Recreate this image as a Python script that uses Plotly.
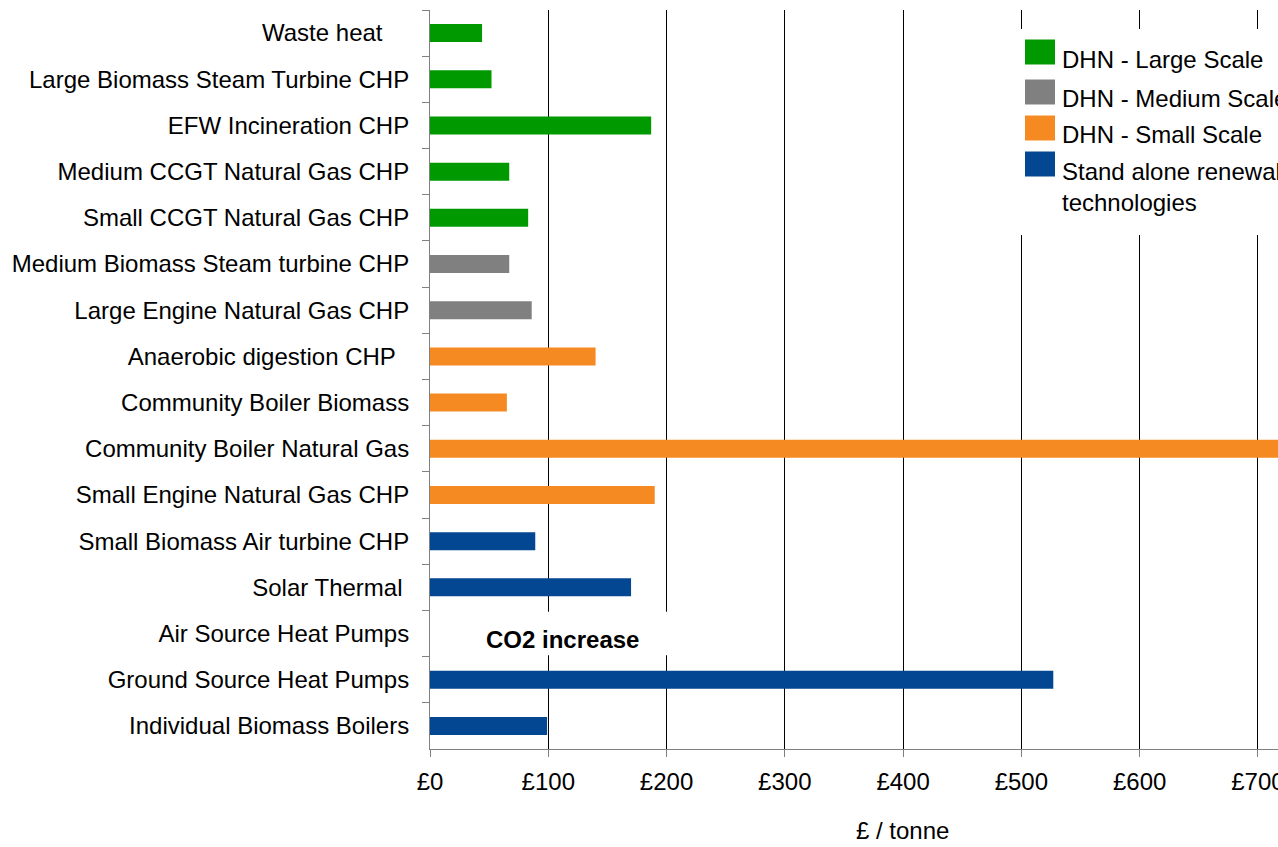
import plotly.graph_objects as go

NBSP = "\u00a0"
categories = [
    "Waste heat" + NBSP * 4,
    "Large Biomass Steam Turbine CHP",
    "EFW Incineration CHP",
    "Medium CCGT Natural Gas CHP",
    "Small CCGT Natural Gas CHP",
    "Medium Biomass Steam turbine CHP",
    "Large Engine Natural Gas CHP",
    "Anaerobic digestion CHP" + NBSP * 2,
    "Community Boiler Biomass",
    "Community Boiler Natural Gas",
    "Small Engine Natural Gas CHP",
    "Small Biomass Air turbine CHP",
    "Solar Thermal" + NBSP,
    "Air Source Heat Pumps",
    "Ground Source Heat Pumps",
    "Individual Biomass Boilers",
]

large_cats = categories[0:5]
large_vals = [44, 52, 187, 67, 83]
medium_cats = categories[5:7]
medium_vals = [67, 86]
small_cats = categories[7:11]
small_vals = [140, 65, 850, 190]
stand_cats = categories[11:16]
stand_vals = [89, 170, None, 527, 99]

series_names = ["DHN - Large Scale", "DHN - Medium Scale", "DHN - Small Scale",
                "Stand alone renewable<br>technologies"]
colors = ["#009900", "#808080", "#F68A22", "#034691"]

x_ticks = [0, 100, 200, 300, 400, 500, 600, 700]
x_ticktext = ["£0", "£100", "£200", "£300", "£400", "£500", "£600", "£700"]
x_title = "£ / tonne"
note_text = "CO2 increase"

FONT = "Liberation Sans, Arial, sans-serif"
FS = 24

fig = go.Figure()
for cats, vals, name, col in zip(
    [large_cats, medium_cats, small_cats, stand_cats],
    [large_vals, medium_vals, small_vals, stand_vals],
    series_names, colors):
    fig.add_trace(go.Bar(y=cats, x=vals, orientation="h", name=name,
                         marker=dict(color=col, line=dict(width=0)),
                         width=0.39, showlegend=False))

W, H = 1278, 847
L, R, T, B = 430, 1278, 10, 749  # plot area in page pixels
def px(x):
    return (x - L) / (R - L)
def py(y):
    return (B - y) / (B - T)

shapes = []
annotations = []

# white box behind "CO2 increase"
idx = categories.index("Air Source Heat Pumps")
shapes.append(dict(type="rect", xref="x", yref="y", x0=3, x1=205,
                   y0=idx - 0.47, y1=idx + 0.47, fillcolor="white",
                   line=dict(width=0), layer="above"))
annotations.append(dict(x=112, y=categories[idx], xref="x", yref="y",
                        text="<b>" + note_text + "</b>", showarrow=False,
                        yshift=-6, font=dict(family=FONT, size=24, color="black")))

# legend (manual)
shapes.append(dict(type="rect", xref="paper", yref="paper", x0=px(1013), x1=px(1300),
                   y0=py(235), y1=py(29), fillcolor="white", line=dict(width=0),
                   layer="above"))
sw_centers = [52, 92, 128, 164]
txt_centers = [60, 98, 134, 170]
for i, (name, col) in enumerate(zip(series_names, colors)):
    c = sw_centers[i]
    shapes.append(dict(type="rect", xref="paper", yref="paper", x0=px(1025), x1=px(1055),
                       y0=py(c + 12.5), y1=py(c - 12.5), fillcolor=col,
                       line=dict(width=0), layer="above"))
    if i < 3:
        annotations.append(dict(x=px(1060), y=py(txt_centers[i]), xref="paper", yref="paper",
                                text=name, showarrow=False, xanchor="left", yanchor="middle",
                                align="left", font=dict(family=FONT, size=FS, color="black")))
    else:
        annotations.append(dict(x=px(1060), y=py(txt_centers[i] - 14), xref="paper", yref="paper",
                                text=name, showarrow=False, xanchor="left", yanchor="top",
                                align="left", font=dict(family=FONT, size=FS, color="black")))

# x-axis title
annotations.append(dict(x=px(902), y=py(830), xref="paper", yref="paper", text=x_title,
                        showarrow=False, xanchor="center", yanchor="middle",
                        font=dict(family=FONT, size=FS, color="black")))

fig.update_layout(
    width=W, height=H,
    margin=dict(l=L, r=W - R, t=T, b=H - B, pad=0, autoexpand=False),
    paper_bgcolor="white", plot_bgcolor="white",
    barmode="overlay",
    font=dict(family=FONT, size=FS, color="black"),
    shapes=shapes, annotations=annotations,
    showlegend=False,
)
fig.update_xaxes(range=[0, 717], tickvals=x_ticks, ticktext=x_ticktext,
                 showgrid=True, gridcolor="black", gridwidth=1, zeroline=False,
                 showline=True, linecolor="#808080", linewidth=1,
                 ticks="outside", ticklen=7, tickcolor="#808080",
                 ticklabeloverflow="allow", automargin=False,
                 ticklabelstandoff=4, tickfont=dict(family=FONT, size=FS, color="black"))
fig.update_yaxes(categoryorder="array", categoryarray=categories, autorange="reversed",
                 showgrid=False, zeroline=False, showline=True, linecolor="#808080",
                 linewidth=1, ticks="outside", ticklen=7, tickcolor="#808080",
                 tickson="boundaries", ticklabelstandoff=15, automargin=False,
                 tickfont=dict(family=FONT, size=FS, color="black"))

fig.write_html(
    "out.html",
    config={"displayModeBar": False},
    post_script="document.body.style.margin='0';document.body.style.overflow='hidden';",
)
